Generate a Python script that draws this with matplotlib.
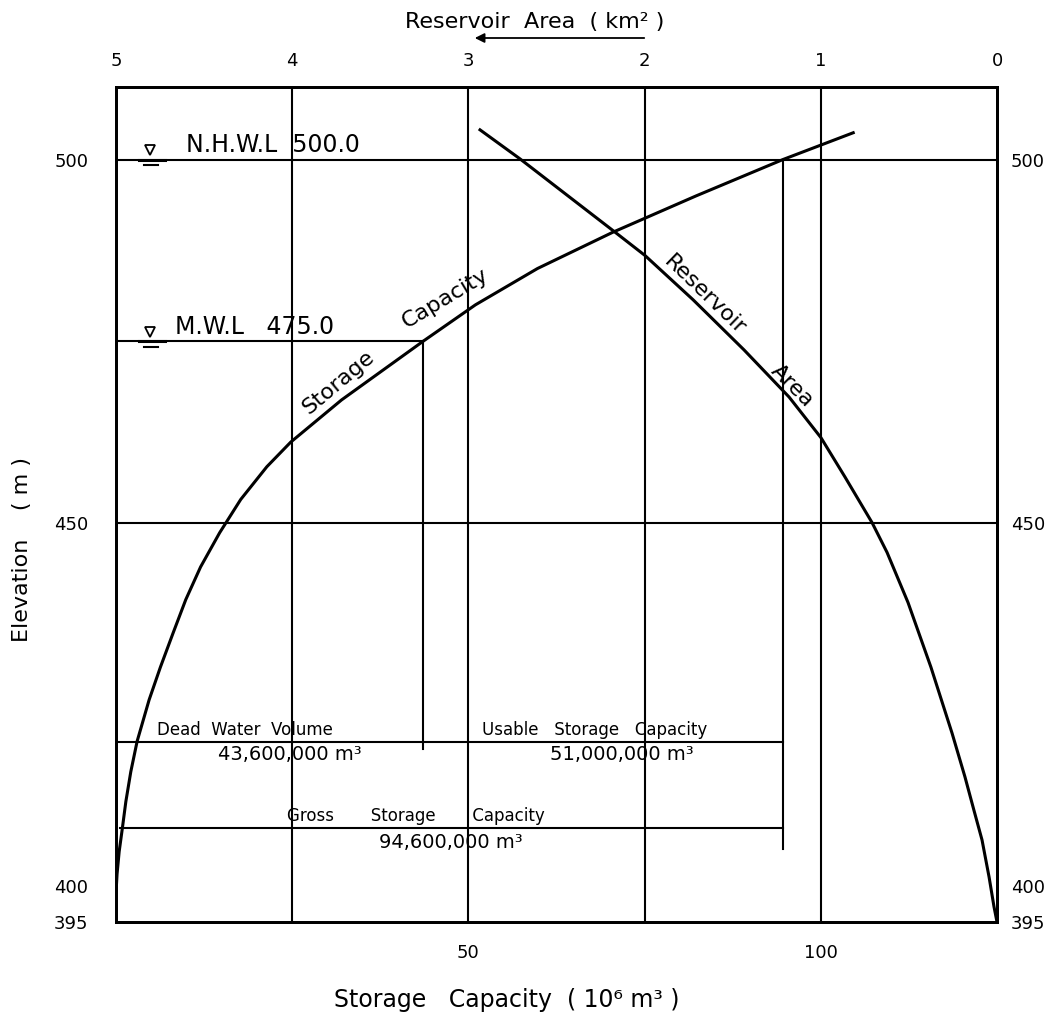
import matplotlib
matplotlib.use("Agg")
import matplotlib.pyplot as plt
from matplotlib.patches import FancyArrowPatch

plt.rcParams['font.family'] = ['DejaVu Sans']

# Storage capacity curve: elevation (m) -> capacity (10^6 m^3)
storage_elev = [399.0, 401.6, 404.7, 407.9, 411.6, 415.7, 419.9, 425.6, 430.1,
                434.8, 439.4, 443.9, 448.6, 453.2, 457.7, 461.1, 466.9, 475.0,
                480.0, 485.0, 490.0, 495.0, 500.0, 503.7]
storage_cap = [0.0, 0.15, 0.45, 0.9, 1.4, 2.1, 3.0, 4.7, 6.3,
               8.1, 9.9, 12.0, 14.7, 17.7, 21.4, 24.8, 32.0, 43.6,
               51.0, 59.8, 70.5, 82.3, 94.6, 104.6]

# Reservoir area curve: elevation (m) -> area (km^2)
area_elev = [395.0, 397.1, 401.2, 406.3, 410.4, 415.0, 421.0, 430.1, 439.0,
             445.9, 450.0, 456.3, 461.7, 467.3, 473.8, 480.7, 486.8, 489.9,
             500.1, 504.1]
area_km2 = [0.0, 0.017, 0.045, 0.085, 0.131, 0.182, 0.255, 0.375, 0.505,
            0.624, 0.709, 0.863, 0.999, 1.180, 1.436, 1.725, 1.998, 2.162,
            2.707, 2.934]

# Characteristic levels and volumes
nhwl = 500.0
mwl = 475.0
dead_volume = 43.6      # 10^6 m^3
usable_volume = 51.0    # 10^6 m^3
gross_volume = 94.6     # 10^6 m^3

cap_ticks = [50, 100]
area_ticks = [5, 4, 3, 2, 1, 0]
elev_ticks = [500, 450, 400, 395]
cap_grid = [25, 50, 75, 100]
elev_grid = [500, 450]

W, H = 1056, 1017
fig = plt.figure(figsize=(W / 100, H / 100), dpi=100)
ax = fig.add_axes([116 / W, (H - 922) / H, 881 / W, 835 / H])
ax.set_xlim(0, 125)
ax.set_ylim(395, 510)

for s in ax.spines.values():
    s.set_linewidth(2.0)

lw_grid = 1.5
for c in cap_grid:
    ax.axvline(c, color='black', lw=lw_grid)
for e in elev_grid:
    ax.axhline(e, color='black', lw=lw_grid)

# Bottom / left ticks
ax.set_xticks(cap_ticks)
ax.set_xticklabels([str(v) for v in cap_ticks])
ax.tick_params(axis='x', length=0, pad=16, labelsize=13)
ax.set_yticks(elev_ticks)
ax.set_yticklabels([str(v) for v in elev_ticks])
ax.tick_params(axis='y', length=0, pad=20, labelsize=13)

# Right elevation labels
sec = ax.secondary_yaxis('right')
sec.set_yticks(elev_ticks)
sec.set_yticklabels([str(v) for v in elev_ticks])
sec.tick_params(length=0, pad=10, labelsize=13)
sec.spines['right'].set_linewidth(2.0)

# Storage capacity curve
ax.plot(storage_cap, storage_elev, color='black', lw=2.2)

# M.W.L line and dead-water vertical
ax.plot([0, dead_volume], [mwl, mwl], color='black', lw=lw_grid)
ax.plot([dead_volume, dead_volume], [mwl, 418.8], color='black', lw=lw_grid)
# Gross storage vertical at N.H.W.L
ax.plot([gross_volume, gross_volume], [nhwl, 405.1], color='black', lw=lw_grid)

# Dimension lines
ax.plot([0, gross_volume], [419.8, 419.8], color='black', lw=lw_grid)
ax.plot([0.5, gross_volume], [407.9, 407.9], color='black', lw=lw_grid)

# Water level symbols
for lvl in (nhwl, mwl):
    ax.plot([4.8], [lvl + 1.3], marker='v', ms=7, mfc='white', mec='black', mew=1.3)
    ax.plot([3.3, 6.9], [lvl, lvl], color='black', lw=2.2)
    ax.plot([4.0, 6.0], [lvl - 0.75, lvl - 0.75], color='black', lw=1.5)

ax.text(9.9, nhwl + 0.3, "N.H.W.L  500.0", fontsize=17, ha='left', va='bottom')
ax.text(8.4, mwl + 0.3, "M.W.L   475.0", fontsize=17, ha='left', va='bottom')

# Curve labels
ax.text(31.5, 469.3, "Storage", fontsize=16, rotation=40, ha='center', va='center',
        rotation_mode='anchor')
ax.text(46.7, 480.9, "Capacity", fontsize=16, rotation=31, ha='center', va='center',
        rotation_mode='anchor')
ax.text(83.6, 481.3, "Reservoir", fontsize=16, rotation=-44, ha='center', va='center',
        rotation_mode='anchor')
ax.text(95.9, 468.9, "Area", fontsize=16, rotation=-45, ha='center', va='center',
        rotation_mode='anchor')

# Volume annotations
ax.text(5.8, 420.2, "Dead  Water  Volume", fontsize=12, ha='left', va='bottom')
ax.text(24.7, 418.0, f"{dead_volume * 1e6:,.0f} m³", fontsize=14, ha='center', va='center')
ax.text(51.9, 420.2, "Usable   Storage   Capacity", fontsize=12, ha='left', va='bottom')
ax.text(71.8, 418.0, f"{usable_volume * 1e6:,.0f} m³", fontsize=14, ha='center', va='center')
ax.text(24.3, 408.3, "Gross       Storage       Capacity", fontsize=12, ha='left', va='bottom')
ax.text(47.5, 405.9, f"{gross_volume * 1e6:,.0f} m³", fontsize=14, ha='center', va='center')

# Reservoir area on the top axis (decreasing to the right)
ax2 = ax.twiny()
ax2.set_xlim(5, 0)
ax2.set_xticks(area_ticks)
ax2.set_xticklabels([str(v) for v in area_ticks])
ax2.tick_params(axis='x', length=0, pad=12, labelsize=13)
for s in ax2.spines.values():
    s.set_linewidth(2.0)
ax2.plot(area_km2, area_elev, color='black', lw=2.2)

# Axis titles
fig.text(535 / W, 1 - 22 / H, "Reservoir  Area  ( km² )", fontsize=16,
         ha='center', va='center')
fig.add_artist(FancyArrowPatch(
    (647 / W, 1 - 38 / H), (472 / W, 1 - 38 / H), transform=fig.transFigure,
    arrowstyle='-|>', mutation_scale=14, lw=1.3, color='black'))
fig.text(507 / W, 1 - 1000 / H, "Storage   Capacity  ( 10⁶ m³ )", fontsize=17,
         ha='center', va='center')
fig.text(22 / W, 1 - 550 / H, "Elevation    ( m )", fontsize=16, rotation=90,
         ha='center', va='center')

fig.savefig("out.png", dpi=100)
